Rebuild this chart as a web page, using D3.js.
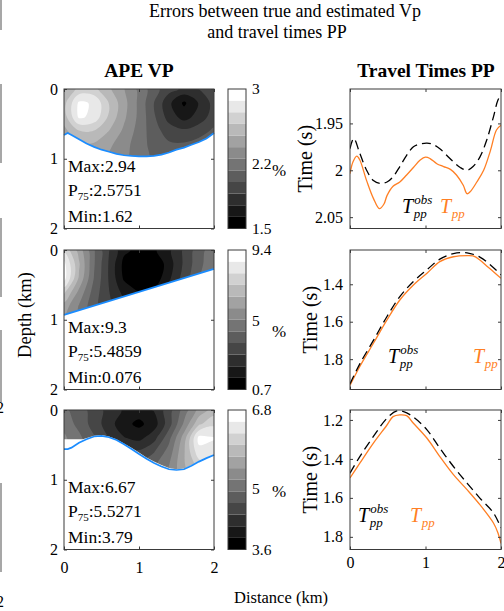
<!DOCTYPE html>
<html>
<head>
<meta charset="utf-8">
<script src="https://cdn.jsdelivr.net/npm/d3@7"></script>
<style>
  body { margin: 0; background: #fff; }
  svg { display: block; }
  text { font-family: "Liberation Serif", "Times New Roman", serif; fill: #000; }
</style>
</head>
<body>
<svg id="fig" width="504" height="611"></svg>
<script>
// ---------- APE fields (percent error), sampled on a regular grid ----------
const gridX = [0, 0.2, 0.4, 0.6, 0.8, 1.0, 1.2, 1.4, 1.6, 1.8, 2.0];   // km
const gridDepth = [0, 0.2, 0.4, 0.6, 0.8, 1.0];                        // km

const apeModel1 = [
  [2.50, 2.66, 2.66, 2.52, 2.38, 2.22, 2.05, 1.92, 1.85, 1.88, 1.96],
  [2.58, 2.90, 2.86, 2.62, 2.42, 2.22, 2.00, 1.78, 1.60, 1.76, 1.92],
  [2.56, 2.90, 2.84, 2.60, 2.40, 2.22, 2.02, 1.82, 1.70, 1.80, 1.94],
  [2.46, 2.62, 2.62, 2.50, 2.35, 2.20, 2.05, 1.94, 1.90, 1.95, 2.02],
  [2.40, 2.48, 2.48, 2.40, 2.30, 2.18, 2.08, 2.02, 2.02, 2.05, 2.10],
  [2.36, 2.40, 2.40, 2.35, 2.28, 2.18, 2.10, 2.06, 2.06, 2.08, 2.12]
];
const apeModel2 = [
  [7.8, 6.2, 4.4, 2.9, 1.6, 1.2, 1.3, 2.0, 3.0, 4.0, 4.8],
  [8.9, 6.6, 4.4, 2.8, 1.2, 0.5, 0.7, 1.8, 3.0, 4.1, 4.9],
  [9.0, 6.4, 4.3, 2.8, 1.3, 0.6, 0.9, 2.0, 3.2, 4.3, 5.1],
  [7.4, 5.6, 4.0, 2.9, 1.9, 1.4, 1.6, 2.5, 3.5, 4.5, 5.2],
  [6.2, 5.0, 3.8, 3.0, 2.5, 2.2, 2.4, 3.0, 3.8, 4.6, 5.3],
  [5.8, 4.8, 3.8, 3.2, 2.8, 2.7, 2.8, 3.3, 4.0, 4.8, 5.4]
];
const apeModel3 = [
  [5.00, 4.80, 4.55, 4.30, 4.10, 4.00, 4.15, 4.55, 5.05, 5.55, 5.85],
  [5.10, 4.85, 4.55, 4.25, 3.95, 3.80, 4.00, 4.55, 5.25, 5.95, 6.20],
  [5.25, 5.00, 4.70, 4.40, 4.15, 4.05, 4.30, 4.85, 5.60, 6.62, 6.55],
  [5.30, 5.10, 4.85, 4.60, 4.45, 4.45, 4.65, 5.05, 5.70, 6.45, 6.45],
  [5.30, 5.15, 5.00, 4.85, 4.75, 4.75, 4.90, 5.20, 5.70, 6.10, 6.20],
  [5.30, 5.20, 5.05, 4.95, 4.90, 4.90, 5.00, 5.25, 5.60, 5.90, 6.00]
];

// ---------- reflector depths (blue lines) ----------
const reflector1X = [0, 0.05, 0.1, 0.2, 0.3, 0.4, 0.5, 0.6, 0.7, 0.8, 0.9, 1.0, 1.1, 1.2, 1.3, 1.4, 1.5, 1.6, 1.7, 1.8, 1.9, 2.0];
const reflector1D = [0.66, 0.63, 0.66, 0.72, 0.78, 0.83, 0.87, 0.90, 0.93, 0.95, 0.96, 0.965, 0.965, 0.96, 0.94, 0.91, 0.87, 0.84, 0.80, 0.76, 0.71, 0.63];
const reflector2X = [0, 0.5, 1.0, 1.5, 2.0];
const reflector2D = [0.93, 0.765, 0.60, 0.435, 0.27];
const reflector3X = [0, 0.05, 0.1, 0.2, 0.3, 0.4, 0.5, 0.6, 0.7, 0.8, 0.9, 1.0, 1.1, 1.2, 1.3, 1.4, 1.5, 1.6, 1.7, 1.8, 1.9, 2.0];
const reflector3D = [0.56, 0.56, 0.54, 0.47, 0.42, 0.38, 0.37, 0.39, 0.43, 0.49, 0.56, 0.63, 0.70, 0.76, 0.81, 0.85, 0.86, 0.85, 0.80, 0.74, 0.69, 0.645];
// lower edge of the imaged region in model 3 (slightly above the reflector on the left)
const imaged3X = [0, 0.25, 0.4, 0.5, 0.6, 0.7, 0.8, 0.9, 1.0, 1.1, 1.2, 1.3, 1.4, 1.5, 1.6, 1.7, 1.8, 1.9, 2.0];
const imaged3D = [0.42, 0.42, 0.37, 0.36, 0.38, 0.42, 0.48, 0.54, 0.61, 0.68, 0.74, 0.79, 0.83, 0.85, 0.84, 0.79, 0.73, 0.68, 0.64];

// ---------- colour bar limits and ticks ----------
const cbMin = [1.5, 0.7, 3.6];
const cbMax = [3, 9.4, 6.8];
const cbMid = [2.2, 5, 5];

// ---------- APE statistics ----------
const statMax = [2.94, 9.3, 6.67];
const statP75 = [2.5751, 5.4859, 5.5271];
const statMin = [1.62, 0.076, 3.79];

// ---------- PP travel times (s) vs distance (km) ----------
const obs1X = [0, 0.05, 0.13, 0.22, 0.31, 0.40, 0.49, 0.57, 0.66, 0.75, 0.84, 0.93, 1.02, 1.10, 1.19, 1.28, 1.37, 1.46, 1.55, 1.63, 1.72, 1.81, 1.90, 1.96, 2.0];
const obs1T = [1.977, 1.966, 1.982, 2.000, 2.011, 2.014, 2.0125, 2.007, 1.996, 1.984, 1.975, 1.972, 1.971, 1.9725, 1.977, 1.984, 1.991, 1.997, 2.000, 1.996, 1.986, 1.968, 1.943, 1.925, 1.920];
const est1X = [0, 0.04, 0.09, 0.13, 0.22, 0.31, 0.39, 0.45, 0.49, 0.57, 0.66, 0.75, 0.84, 0.93, 1.0, 1.06, 1.15, 1.24, 1.33, 1.41, 1.50, 1.55, 1.59, 1.68, 1.77, 1.86, 1.94, 2.0];
const est1T = [2.0036, 1.991, 1.985, 1.989, 2.011, 2.030, 2.041, 2.036, 2.027, 2.017, 2.0125, 2.005, 1.997, 1.989, 1.986, 1.9875, 1.993, 1.996, 1.999, 2.005, 2.016, 2.025, 2.023, 2.0125, 2.000, 1.979, 1.957, 1.952];

const obs2X = [0, 0.13, 0.31, 0.49, 0.66, 0.84, 1.02, 1.19, 1.37, 1.55, 1.72, 1.86, 2.0];
const obs2T = [1.932, 1.825, 1.700, 1.572, 1.466, 1.385, 1.322, 1.266, 1.236, 1.232, 1.255, 1.297, 1.350];
const est2X = [0, 0.13, 0.31, 0.49, 0.66, 0.84, 1.02, 1.19, 1.37, 1.55, 1.63, 1.72, 1.81, 1.90, 2.0];
const est2T = [1.940, 1.839, 1.715, 1.590, 1.484, 1.404, 1.341, 1.279, 1.253, 1.247, 1.249, 1.270, 1.302, 1.333, 1.368];

const obs3X = [0, 0.13, 0.31, 0.49, 0.62, 0.71, 0.84, 1.02, 1.19, 1.37, 1.55, 1.72, 1.90, 2.0];
const obs3T = [1.473, 1.388, 1.285, 1.191, 1.154, 1.157, 1.185, 1.251, 1.345, 1.439, 1.524, 1.601, 1.677, 1.754];
const est3X = [0, 0.13, 0.31, 0.49, 0.57, 0.66, 0.75, 0.84, 1.02, 1.19, 1.37, 1.55, 1.72, 1.90, 1.96, 2.0];
const est3T = [1.498, 1.422, 1.319, 1.226, 1.183, 1.174, 1.178, 1.217, 1.294, 1.388, 1.481, 1.558, 1.635, 1.729, 1.780, 1.834];

const timeDomains = [[1.9133, 2.0621], [1.217, 1.962], [1.149, 1.865]];
const timeTicks = [[1.95, 2, 2.05], [1.4, 1.6, 1.8], [1.2, 1.4, 1.6, 1.8]];
const distTicks = [0, 1, 2];
const depthTicks = [0, 1, 2];

// ---------- layout ----------
const svg = d3.select("#fig");
const rowTop = [89, 250, 410];
const rowH = 139.5;
const L = { x0: 64, x1: 214 };
const CB = { x0: 228, x1: 246 };
const R = { x0: 350, x1: 501 };
const frameColor = "#3a3a3a";
const blue = "#1a8cff";
const orange = "#ff7f24";
const gray = k => { const v = Math.round(255 * k / 11); return `rgb(${v},${v},${v})`; };

const fields = [apeModel1, apeModel2, apeModel3];
const edges = [
  { x: reflector1X, d: reflector1D },
  { x: reflector2X, d: reflector2D },
  { x: imaged3X, d: imaged3D }
];
const reflectors = [
  { x: reflector1X, d: reflector1D },
  { x: reflector2X, d: reflector2D },
  { x: reflector3X, d: reflector3D }
];
const curves = [
  { ox: obs1X, ot: obs1T, ex: est1X, et: est1T },
  { ox: obs2X, ot: obs2T, ex: est2X, et: est2T },
  { ox: obs3X, ot: obs3T, ex: est3X, et: est3T }
];
const legendPos = [
  { obs: [402, 213], est: [440, 213] },
  { obs: [388, 363], est: [473, 363] },
  { obs: [358, 522], est: [410, 522] }
];
const timeLabelX = [312, 317, 317];

function styleAxis(g, size) {
  g.select(".domain").remove();
  g.selectAll(".tick line").attr("stroke", frameColor).attr("stroke-width", 1);
  g.selectAll(".tick text").style("font-size", size + "px").attr("fill", "#000")
    .style("font-family", '"Liberation Serif", serif');
}

const defs = svg.append("defs");
const ringLine = d3.line().curve(d3.curveCatmullRomClosed.alpha(0.5));

// ---------- left column: APE maps ----------
for (let i = 0; i < 3; i++) {
  const top = rowTop[i], bottom = top + rowH;
  const x = d3.scaleLinear([0, 2], [L.x0, L.x1]);
  const y = d3.scaleLinear([0, 2], [top, bottom]);
  const vmin = cbMin[i], vmax = cbMax[i], nBands = 12, step = (vmax - vmin) / nBands;
  const thresholds = d3.range(1, nBands).map(k => vmin + k * step);

  const grid = fields[i];
  const nx = gridX.length, ny = gridDepth.length;
  const bands = d3.contours().size([nx, ny]).thresholds(thresholds)(grid.flat());
  const dxs = gridX[1] - gridX[0], dys = gridDepth[1] - gridDepth[0];
  // contour coordinates put sample k at k + 0.5
  const toPx = p => [x(gridX[0] + (p[0] - 0.5) * dxs), y(gridDepth[0] + (p[1] - 0.5) * dys)];
  const bandPath = mp => mp.coordinates.map(poly => poly.map(ring =>
    ringLine(ring.slice(0, -1).map(toPx))).join("")).join("");

  defs.append("clipPath").attr("id", "panel" + i).append("rect")
    .attr("x", L.x0).attr("y", top).attr("width", L.x1 - L.x0).attr("height", rowH);

  const g = svg.append("g");
  const fg = g.append("g").attr("clip-path", `url(#panel${i})`);
  fg.append("rect").attr("x", L.x0).attr("y", top).attr("width", L.x1 - L.x0).attr("height", rowH).attr("fill", gray(0));
  fg.selectAll("path.band").data(bands).join("path").attr("class", "band")
    .attr("d", bandPath).attr("fill", (d, k) => gray(k + 1)).attr("fill-rule", "evenodd");

  // everything below the imaged region is blanked out
  const e = edges[i];
  const maskPts = e.x.map((v, k) => [x(v), y(e.d[k])]).concat([[x(2) + 2, y(e.d[e.d.length - 1])], [x(2) + 2, bottom + 2], [x(0) - 2, bottom + 2], [x(0) - 2, y(e.d[0])]]);
  fg.append("path").attr("d", d3.line()(maskPts) + "Z").attr("fill", "#fff");

  // reflector
  const r = reflectors[i];
  g.append("path")
    .datum(r.x.map((v, k) => [v, r.d[k]]))
    .attr("d", d3.line().x(d => x(d[0])).y(d => y(d[1])))
    .attr("fill", "none").attr("stroke", blue).attr("stroke-width", 1.7);

  // frame and ticks
  g.append("rect").attr("x", L.x0).attr("y", top).attr("width", L.x1 - L.x0).attr("height", rowH)
    .attr("fill", "none").attr("stroke", frameColor).attr("stroke-width", 1);
  const ya = g.append("g").attr("transform", `translate(${L.x0},0)`)
    .call(d3.axisLeft(y).tickValues(depthTicks).tickFormat(d => String(d)).tickSizeInner(-3).tickSizeOuter(0).tickPadding(6));
  styleAxis(ya, 16);
  const yb = g.append("g").attr("transform", `translate(${L.x1},0)`)
    .call(d3.axisRight(y).tickValues(depthTicks).tickFormat("").tickSizeInner(-3).tickSizeOuter(0));
  styleAxis(yb, 16);
  const xa = g.append("g").attr("transform", `translate(0,${bottom})`)
    .call(d3.axisBottom(x).tickValues(distTicks).tickFormat(i === 2 ? (d => String(d)) : "").tickSizeInner(-3).tickSizeOuter(0).tickPadding(12));
  styleAxis(xa, 16);
  const xt = g.append("g").attr("transform", `translate(0,${top})`)
    .call(d3.axisTop(x).tickValues(distTicks).tickFormat("").tickSizeInner(-3).tickSizeOuter(0));
  styleAxis(xt, 16);

  // statistics
  const sx = L.x0 + 4;
  const fs = "17.5px";
  g.append("text").attr("x", sx).attr("y", top + 83).style("font-size", fs).text("Max:" + statMax[i]);
  const p = g.append("text").attr("x", sx).attr("y", top + 107).style("font-size", fs);
  p.append("tspan").text("P");
  p.append("tspan").attr("dy", 4).style("font-size", "11px").text("75");
  p.append("tspan").attr("dy", -4).text(":" + statP75[i]);
  g.append("text").attr("x", sx).attr("y", top + 133).style("font-size", fs).text("Min:" + statMin[i]);

  // colour bar
  const cb = d3.scaleLinear([vmin, vmax], [bottom, top]);
  const cg = svg.append("g");
  cg.selectAll("rect.lev").data(d3.range(nBands)).join("rect").attr("class", "lev")
    .attr("x", CB.x0).attr("width", CB.x1 - CB.x0)
    .attr("y", k => cb(vmin + (k + 1) * step))
    .attr("height", k => cb(vmin + k * step) - cb(vmin + (k + 1) * step))
    .attr("fill", k => gray(k));
  cg.append("rect").attr("x", CB.x0).attr("y", top).attr("width", CB.x1 - CB.x0).attr("height", rowH)
    .attr("fill", "none").attr("stroke", frameColor).attr("stroke-width", 1);
  const ca = cg.append("g").attr("transform", `translate(${CB.x1},0)`)
    .call(d3.axisRight(cb).tickValues([vmin, cbMid[i], vmax]).tickFormat(d => String(d)).tickSize(0).tickPadding(6));
  styleAxis(ca, 15.5);
  cg.append("text").attr("x", CB.x1 + 26).attr("y", top + 87).style("font-size", "17px").text("%");
}

// ---------- right column: travel times ----------
for (let i = 0; i < 3; i++) {
  const top = rowTop[i], bottom = top + rowH;
  const x = d3.scaleLinear([0, 2], [R.x0, R.x1]);
  const y = d3.scaleLinear(timeDomains[i], [top, bottom]);
  const g = svg.append("g");
  defs.append("clipPath").attr("id", "tt" + i).append("rect")
    .attr("x", R.x0).attr("y", top).attr("width", R.x1 - R.x0).attr("height", rowH);
  const cgp = g.append("g").attr("clip-path", `url(#tt${i})`);
  const c = curves[i];
  const line = d3.line().x(d => x(d[0])).y(d => y(d[1])).curve(d3.curveCatmullRom.alpha(0.5));
  cgp.append("path").datum(c.ex.map((v, k) => [v, c.et[k]])).attr("d", line)
    .attr("fill", "none").attr("stroke", orange).attr("stroke-width", 1.3);
  cgp.append("path").datum(c.ox.map((v, k) => [v, c.ot[k]])).attr("d", line)
    .attr("fill", "none").attr("stroke", "#000").attr("stroke-width", 1.3).attr("stroke-dasharray", "9,5");

  g.append("rect").attr("x", R.x0).attr("y", top).attr("width", R.x1 - R.x0).attr("height", rowH)
    .attr("fill", "none").attr("stroke", frameColor).attr("stroke-width", 1);
  const ya = g.append("g").attr("transform", `translate(${R.x0},0)`)
    .call(d3.axisLeft(y).tickValues(timeTicks[i]).tickFormat(d => String(d)).tickSizeInner(-3).tickSizeOuter(0).tickPadding(7));
  styleAxis(ya, 16);
  const yb = g.append("g").attr("transform", `translate(${R.x1},0)`)
    .call(d3.axisRight(y).tickValues(timeTicks[i]).tickFormat("").tickSizeInner(-3).tickSizeOuter(0));
  styleAxis(yb, 16);
  const xa = g.append("g").attr("transform", `translate(0,${bottom})`)
    .call(d3.axisBottom(x).tickValues(distTicks).tickFormat(i === 2 ? (d => String(d)) : "").tickSizeInner(-3).tickSizeOuter(0).tickPadding(7));
  styleAxis(xa, 16);
  const xt = g.append("g").attr("transform", `translate(0,${top})`)
    .call(d3.axisTop(x).tickValues(distTicks).tickFormat("").tickSizeInner(-3).tickSizeOuter(0));
  styleAxis(xt, 16);

  g.append("text").attr("transform", `translate(${timeLabelX[i]},${top + rowH / 2}) rotate(-90)`)
    .attr("text-anchor", "middle").style("font-size", "20px").text("Time (s)");

  // legend: T_pp^obs and T_pp
  const lp = legendPos[i];
  const tObs = g.append("text").attr("x", lp.obs[0]).attr("y", lp.obs[1])
    .style("font-size", "20px").style("font-style", "italic").text("T");
  const w1 = tObs.node().getComputedTextLength();
  g.append("text").attr("x", lp.obs[0] + w1 + 1).attr("y", lp.obs[1] - 9)
    .style("font-size", "13px").style("font-style", "italic").text("obs");
  g.append("text").attr("x", lp.obs[0] + w1 + 0.5).attr("y", lp.obs[1] + 5)
    .style("font-size", "13px").style("font-style", "italic").text("pp");
  const tEst = g.append("text").attr("x", lp.est[0]).attr("y", lp.est[1])
    .style("fill", orange).style("font-size", "20px").style("font-style", "italic").text("T");
  const w2 = tEst.node().getComputedTextLength();
  g.append("text").attr("x", lp.est[0] + w2 + 0.5).attr("y", lp.est[1] + 5)
    .style("fill", orange).style("font-size", "13px").style("font-style", "italic").text("pp");
}

// ---------- titles and shared labels ----------
svg.append("text").attr("x", 285).attr("y", 17).attr("text-anchor", "middle").style("font-size", "18px")
  .text("Errors between true and estimated Vp");
svg.append("text").attr("x", 277).attr("y", 38).attr("text-anchor", "middle").style("font-size", "18px")
  .text("and travel times PP");
svg.append("text").attr("x", 139).attr("y", 77).attr("text-anchor", "middle").style("font-size", "19.5px")
  .style("font-weight", "bold").text("APE VP");
svg.append("text").attr("x", 426).attr("y", 77).attr("text-anchor", "middle").style("font-size", "19.5px")
  .style("font-weight", "bold").text("Travel Times PP");
svg.append("text").attr("transform", "translate(31,315) rotate(-90)").attr("text-anchor", "middle")
  .style("font-size", "18.5px").text("Depth (km)");
svg.append("text").attr("x", 281).attr("y", 603).attr("text-anchor", "middle")
  .style("font-size", "16.5px").text("Distance (km)");

// ---------- edge of the neighbouring panel column ----------
const edgeSegments = [[0, 30], [84, 163], [218, 297], [330, 402], [483, 572]];
svg.selectAll("line.nb").data(edgeSegments).join("line").attr("class", "nb")
  .attr("x1", 1).attr("x2", 1).attr("y1", d => d[0]).attr("y2", d => d[1])
  .attr("stroke", "#8a8a8a").attr("stroke-width", 1.5);
svg.selectAll("text.nb").data([413, 607]).join("text").attr("class", "nb")
  .attr("x", -4).attr("y", d => d).style("font-size", "16px").text("2");
</script>
</body>
</html>
